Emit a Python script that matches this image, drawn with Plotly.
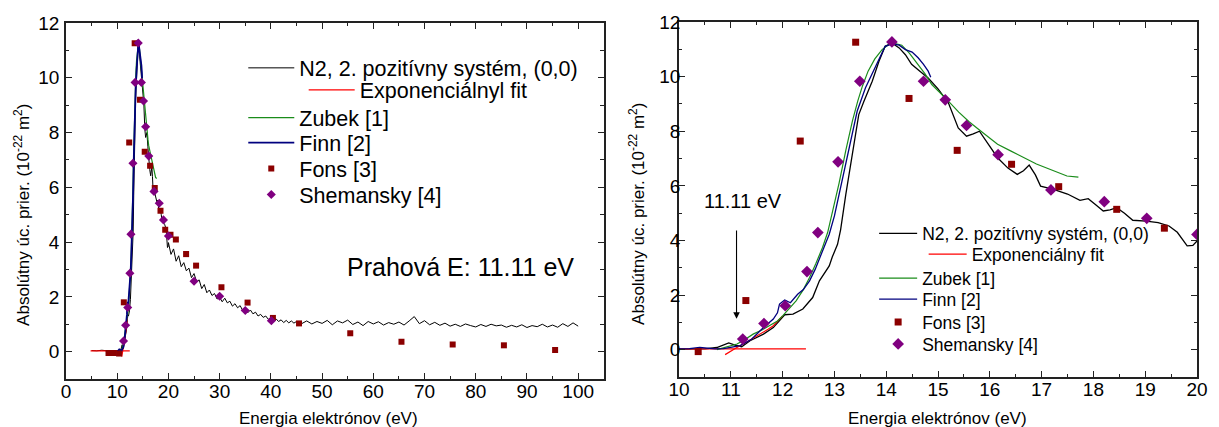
import plotly.graph_objects as go

# ---------------- data ----------------
# N2 second positive system (0,0) band, absolute cross section (1e-22 m^2)
n2_x = [5.0, 6.0, 7.0, 8.0, 9.0, 10.0, 10.25, 10.5, 10.73, 10.85, 10.96, 11.08, 11.21, 11.37,
        11.5, 11.63, 11.82, 11.94, 12.04, 12.2, 12.39, 12.58, 12.71, 12.9, 12.96, 13.06, 13.12,
        13.22, 13.35, 13.47, 13.57, 13.73, 13.86, 13.98, 14.11, 14.25, 14.37, 14.49, 14.65,
        14.81, 15.0, 15.2, 15.39, 15.55, 15.68, 15.8, 15.98, 16.15, 16.35, 16.53, 16.65, 16.76,
        16.88, 16.98, 17.23, 17.5, 17.74, 17.9, 18.05, 18.19, 18.32, 18.45, 18.6, 18.76, 19.02,
        19.25, 19.46, 19.62, 19.81, 19.92, 20.0,
        20.5, 21.0, 21.5, 22.0, 22.5, 23.0, 23.5, 24.0, 24.5, 25.0, 25.5, 26.0, 26.5, 27.0,
        27.5, 28.0, 28.5, 29.0, 29.5, 30.0, 30.5, 31.0, 31.5, 32.0, 32.5, 33.0, 33.5, 34.0,
        34.5, 35.0, 35.5, 36.0, 36.5, 37.0, 37.5, 38.0, 38.5, 39.0, 39.5, 40.0, 40.5, 41.0,
        41.5, 42.0, 42.5, 43.0, 43.5, 44.0, 44.5, 45.0,
        46, 47, 48, 49, 50, 51, 52, 53, 54, 55, 56, 57, 58, 59, 60, 61, 62, 63, 64, 65, 66,
        67, 68, 69, 70, 71, 72, 73, 74, 75, 76, 77, 78, 79, 80, 81, 82, 83, 84, 85, 86, 87,
        88, 89, 90, 91, 92, 93, 94, 95, 96, 97, 98, 99, 100]
n2_y = [0.04, 0.03, 0.05, 0.03, 0.04, 0.02, 0.03, 0.03, 0.08, 0.18, 0.25, 0.17, 0.11, 0.33,
        0.45, 0.57, 0.81, 1.06, 1.28, 1.30, 1.49, 1.91, 2.52, 3.07, 3.4, 3.86, 4.4,
        5.69, 7.15, 8.61, 9.1, 9.83, 10.56, 11.11, 11.23, 11.05, 10.8, 10.45, 10.2,
        9.95, 9.55, 9.04, 8.12, 7.82, 7.9, 8.0, 7.5, 7.03, 6.65, 6.42, 6.55, 6.76,
        6.4, 5.99, 5.87, 5.7, 5.47, 5.53, 5.3, 5.08, 5.12, 5.2, 5.0, 4.74, 4.71,
        4.65, 4.53, 4.3, 3.8, 3.82, 3.98,
        3.55, 3.75, 3.30, 3.50, 3.10, 3.25, 2.95, 3.05, 2.70, 2.85, 2.55, 2.62, 2.30, 2.45,
        2.15, 2.25, 2.05, 2.12, 1.92, 1.98, 1.82, 1.95, 1.78, 1.84, 1.66, 1.75, 1.60, 1.68,
        1.50, 1.58, 1.42, 1.52, 1.38, 1.44, 1.30, 1.36, 1.25, 1.30, 1.18, 1.24, 1.14, 1.20,
        1.10, 1.16, 1.06, 1.14, 1.05, 1.12, 1.04, 1.10,
        1.02, 1.12, 1.01, 1.10, 1.03, 1.14, 0.98, 1.12, 1.05, 1.15, 0.99, 1.08, 0.95, 1.10,
        1.01, 1.09, 0.97, 1.06, 1.00, 1.08, 0.97, 1.12, 1.28, 1.02, 1.13, 0.98, 1.07, 0.96,
        1.04, 0.93, 1.00, 0.92, 1.01, 0.95, 0.90, 0.99, 0.92, 1.00, 0.94, 0.97, 0.89, 0.96,
        0.90, 0.98, 0.88, 0.95, 0.91, 1.00, 0.90, 0.97, 0.89, 1.02, 0.92, 1.05, 0.93]

# exponential threshold fit: baseline + fitted onset (None separates the two pieces)
fit_x = [4.8, 12.45, None, 10.89, 11.0, 11.1, 11.24, 11.4, 11.5, 11.63, 11.72, 11.82, 11.91, 12.0]
fit_y = [0.03, 0.03, None, -0.18, -0.07, 0.06, 0.21, 0.38, 0.49, 0.63, 0.75, 0.88, 1.05, 1.24]

# Zubek [1]
zubek_x = [10.73, 10.9, 11.12, 11.25, 11.43, 11.6, 11.75, 11.9, 12.0, 12.13, 12.26, 12.4, 12.52,
           12.64, 12.77, 12.87, 12.98, 13.09, 13.22, 13.35, 13.45, 13.54, 13.65, 13.78, 13.92,
           14.03, 14.14, 14.3, 14.45, 14.62, 14.75, 14.88, 15.05, 15.2, 15.4, 15.6, 15.83, 16.0,
           16.15, 16.4, 16.66, 16.9, 17.17, 17.35, 17.49, 17.71]
zubek_y = [0.0, 0.08, 0.21, 0.35, 0.57, 0.72, 0.88, 1.05, 1.24, 1.5, 1.79, 2.2, 2.64,
           3.15, 3.74, 4.3, 5.2, 6.1, 7.3, 8.4, 9.1, 9.65, 10.2, 10.65, 10.99,
           11.15, 11.23, 11.15, 10.85, 10.44, 10.1, 9.71, 9.4, 9.1, 8.7, 8.35, 8.0, 7.75,
           7.52, 7.28, 7.03, 6.8, 6.6, 6.45, 6.36, 6.32]

# Finn [2]
finn_x = [10.0, 10.2, 10.4, 10.54, 10.7, 10.86, 11.0, 11.18, 11.4, 11.63, 11.82, 11.9, 11.94,
          12.04, 12.15, 12.29, 12.4, 12.52, 12.63, 12.74, 12.9, 13.0, 13.09, 13.25, 13.44, 13.6,
          13.79, 13.9, 13.98, 14.11, 14.25, 14.37, 14.5, 14.62, 14.72, 14.81, 14.86]
finn_y = [0.03, 0.04, 0.08, 0.06, 0.03, 0.04, 0.1, 0.15, 0.38, 0.81, 1.12, 1.35, 1.67,
          1.82, 1.72, 2.03, 2.2, 2.52, 2.95, 3.5, 4.23, 4.9, 5.69, 7.15, 8.74, 9.59,
          10.32, 10.8, 11.11, 11.2, 11.15, 10.99, 10.9, 10.68, 10.45, 10.2, 9.98]

# Fons [3]
fons_x = [8.3, 9.35, 10.37, 11.29, 12.34, 13.41, 14.44, 15.37, 16.42, 17.33, 18.45, 19.37,
          20.4, 21.45, 23.45, 25.4, 30.35, 35.45, 40.4, 45.5, 55.5, 65.5, 75.5, 85.5, 95.5]
fons_y = [-0.05, -0.05, -0.07, 1.8, 7.64, 11.26, 9.2, 7.3, 6.79, 5.97, 5.14, 4.45,
          4.27, 4.09, 3.56, 3.14, 2.35, 1.79, 1.23, 1.03, 0.67, 0.36, 0.26, 0.23, 0.06]

# Shemansky [4]
shem_x = [11.23, 11.64, 12.05, 12.47, 12.68, 13.07, 13.49, 14.11, 14.72, 15.14, 15.55, 16.16,
          17.18, 18.21, 19.03, 20.0, 25.0, 30.0, 35.0, 40.1]
shem_y = [0.39, 0.96, 1.61, 2.86, 4.29, 6.88, 9.83, 11.27, 9.83, 9.15, 8.21, 7.14,
          5.85, 5.42, 4.81, 4.22, 2.57, 2.02, 1.5, 1.13]

threshold_ev = 11.11

# ---------------- styling ----------------
FONT = "Arial, Liberation Sans, sans-serif"
C_N2, C_FIT, C_ZUB, C_FINN = "#000000", "#ff0000", "#1a8c1a", "#00007f"
C_FONS, C_SHEM = "#8b0000", "#800080"
AX = "#222222"

W, H = 1219, 427
ML, MR, MT, MB = 66, 11, 20, 48
PW, PH = W - ML - MR, H - MT - MB


def px(xp):
    return (xp - ML) / PW


def py(yp):
    return (H - MB - yp) / PH


fig = go.Figure()
legends = {}


def add_panel(xa, ya, prefix, exp_name, lw, sizes, fin_w, rows, font_size, item_w, text_off):
    """Add all six series to one panel, each with its own single-entry legend.

    rows: list of (label_text_x_px, row_center_y_px) for the six entries.
    """
    s_fons, s_shem = sizes
    traces = [
        go.Scatter(x=n2_x, y=n2_y, mode="lines", name="N2, 2. pozitívny systém, (0,0)",
                   line=dict(color=C_N2, width=lw)),
        go.Scatter(x=fit_x, y=fit_y, mode="lines", name=exp_name, connectgaps=False,
                   line=dict(color=C_FIT, width=1.2)),
        go.Scatter(x=zubek_x, y=zubek_y, mode="lines", name="Zubek [1]",
                   line=dict(color=C_ZUB, width=1.2)),
        go.Scatter(x=finn_x, y=finn_y, mode="lines", name="Finn [2]",
                   line=dict(color=C_FINN, width=fin_w)),
        go.Scatter(x=fons_x, y=fons_y, mode="markers", name="Fons [3]",
                   marker=dict(symbol="square", size=s_fons, color=C_FONS)),
        go.Scatter(x=shem_x, y=shem_y, mode="markers", name="Shemansky [4]",
                   marker=dict(symbol="diamond", size=s_shem, color=C_SHEM)),
    ]
    for i, (tr, (tx, ty)) in enumerate(zip(traces, rows)):
        key = f"legend{prefix + i}" if prefix + i > 1 else "legend"
        tr.update(xaxis=xa, yaxis=ya, legend=key)
        fig.add_trace(tr)
        legends[key] = dict(x=px(tx - text_off), y=py(ty), xanchor="left", yanchor="middle",
                            bgcolor="rgba(0,0,0,0)", borderwidth=0, itemwidth=item_w,
                            font=dict(family=FONT, size=font_size, color="#000"))


add_panel("x", "y", 1, "Exponenciálnyl fit", 1.0, (6, 7), 1.8,
          [(299, 67), (360, 89), (299, 117), (299, 142), (299, 168), (299, 194)], 21.5, 46, 54)
add_panel("x2", "y2", 7, "Exponenciálny fit", 1.3, (7, 9), 1.3,
          [(923, 233), (973, 254), (923, 278), (923, 299), (923, 322), (923, 344)], 17.5, 38, 41)


def axis(rng, dtick, minor, domain, anchor, standoff):
    return dict(range=rng, dtick=dtick, tick0=0, domain=domain, anchor=anchor,
                showline=True, linecolor=AX, linewidth=1.6, mirror="allticks",
                ticks="inside", ticklen=6, tickwidth=1.4, tickcolor=AX,
                minor=dict(ticks="inside", dtick=minor, ticklen=3.5, tickwidth=1.2, tickcolor=AX),
                showgrid=False, zeroline=False, ticklabelstandoff=standoff,
                tickfont=dict(family=FONT, size=19, color="#000"))


fig.update_layout(
    width=W, height=H, margin=dict(l=ML, r=MR, t=MT, b=MB),
    paper_bgcolor="white", plot_bgcolor="white", showlegend=True,
    font=dict(family=FONT, color="#000"),
    xaxis=axis([0, 105], 10, 5, [0, px(609)], "y", -6),
    yaxis=axis([-1, 12], 2, 1, [0, py(22)], "x", 1),
    xaxis2=axis([10, 20], 1, 0.5, [px(685), 1], "y2", -6),
    yaxis2=axis([-1, 12], 2, 1, [py(377), py(21)], "x2", -7),
    **legends,
)

ytitle = "Absolútny úc. prier. (10<sup>-22</sup> m<sup>2</sup>)"
xtitle = "Energia elektrónov (eV)"
BLACK = "#000000"
annotations = [
    dict(text=ytitle, xref="paper", yref="paper", x=px(22), y=py(214), textangle=-90,
         showarrow=False, xanchor="center", yanchor="middle",
         font=dict(family=FONT, size=17, color=BLACK)),
    dict(text=ytitle, xref="paper", yref="paper", x=px(643), y=py(213), textangle=-90,
         showarrow=False, xanchor="center", yanchor="middle",
         font=dict(family=FONT, size=17, color=BLACK)),
    dict(text=xtitle, xref="paper", yref="paper", x=px(331), y=py(407), showarrow=False,
         xanchor="center", yanchor="top", font=dict(family=FONT, size=17, color=BLACK)),
    dict(text=xtitle, xref="paper", yref="paper", x=px(946), y=py(407), showarrow=False,
         xanchor="center", yanchor="top", font=dict(family=FONT, size=17, color=BLACK)),
    dict(text=f"Prahová E: {threshold_ev:.2f} eV", xref="x", yref="y", x=77, y=3.1,
         showarrow=False, xanchor="center", yanchor="middle",
         font=dict(family=FONT, size=25, color=BLACK)),
    dict(text=f"{threshold_ev:.2f} eV", xref="x2", yref="y2", x=11.24, y=5.45,
         showarrow=False, xanchor="center", yanchor="middle",
         font=dict(family=FONT, size=20, color=BLACK)),
    dict(text="", xref="x2", yref="y2", x=threshold_ev, y=1.13, axref="x2", ayref="y2",
         ax=threshold_ev, ay=4.42, showarrow=True, arrowhead=2, arrowsize=1.2,
         arrowwidth=1.1, arrowcolor=BLACK),
]
fig.update_layout(annotations=annotations)

fig.write_html("out.html")
